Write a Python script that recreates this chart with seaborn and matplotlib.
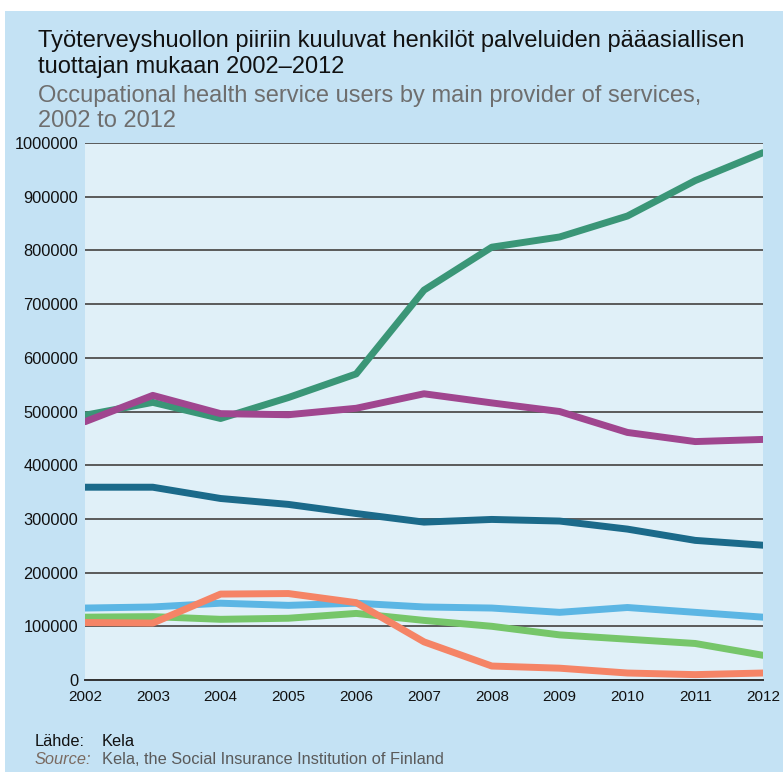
import matplotlib
matplotlib.use("Agg")
import matplotlib.pyplot as plt
import numpy as np
import pandas as pd
import seaborn as sns
from matplotlib.patches import Rectangle
from matplotlib.ticker import FuncFormatter

# ---- data ----
years = [2002, 2003, 2004, 2005, 2006, 2007, 2008, 2009, 2010, 2011, 2012]
series_names = ["Lääkäriasemat", "Terveyskeskukset", "Työnantajan oma yksikkö",
                "Yhteisyksiköt", "Kunnalliset liikelaitokset", "Muut"]
teal_vals = [493000, 517000, 487000, 526000, 570000, 726000, 806000, 825000, 864000, 930000, 982000]
purple_vals = [481000, 530000, 496000, 494000, 506000, 533000, 516000, 500000, 461000, 444000, 448000]
darkblue_vals = [359000, 359000, 338000, 327000, 310000, 294000, 299000, 296000, 281000, 260000, 251000]
lightblue_vals = [134000, 136000, 143000, 139000, 143000, 136000, 134000, 126000, 135000, 126000, 117000]
green_vals = [117000, 118000, 113000, 115000, 124000, 111000, 100000, 84000, 76000, 68000, 46000]
salmon_vals = [107000, 106000, 160000, 161000, 144000, 71000, 26000, 22000, 13000, 10000, 13000]
y_ticks = [0, 100000, 200000, 300000, 400000, 500000, 600000, 700000, 800000, 900000, 1000000]

title_fi = "Työterveyshuollon piiriin kuuluvat henkilöt palveluiden pääasiallisen\ntuottajan mukaan 2002–2012"
title_en = "Occupational health service users by main provider of services,\n2002 to 2012"

colors = ["#3a9677", "#a0468f", "#1b6a8a", "#5cb6e4", "#76c66a", "#f58466"]
panel_color = "#c4e2f4"
plot_bg = "#e0f0f8"

all_vals = [teal_vals, purple_vals, darkblue_vals, lightblue_vals, green_vals, salmon_vals]
df = pd.DataFrame({
    "year": years * len(series_names),
    "value": [v for vals in all_vals for v in vals],
    "series": [n for n in series_names for _ in years],
})

sns.set_style("white")
plt.rcParams["font.family"] = ["Liberation Sans", "DejaVu Sans"]

fig = plt.figure(figsize=(7.83, 7.75), dpi=100, facecolor="white")
fig.patches.append(Rectangle((5 / 783, 3 / 775), 1 - 5 / 783, (772 - 11) / 775,
                             transform=fig.transFigure, facecolor=panel_color,
                             edgecolor="none", zorder=0))

ax = fig.add_axes([85 / 783, 95 / 775, (763 - 85) / 783, (680 - 143) / 775])
ax.set_zorder(2)
ax.set_facecolor(plot_bg)

sns.lineplot(data=df, x="year", y="value", hue="series", hue_order=series_names,
             palette=colors, linewidth=5, legend=False, ax=ax, sort=False)

ax.set_xlim(2002, 2012)
ax.set_ylim(0, 1000000)
ax.set_xticks(years)
ax.set_yticks(y_ticks)
ax.yaxis.set_major_formatter(FuncFormatter(lambda v, p: str(int(v))))
ax.set_xlabel("")
ax.set_ylabel("")

ax.yaxis.grid(True, color="#5a5a5a", linewidth=1.4)
ax.xaxis.grid(False)
ax.set_axisbelow(True)
for s in ["top", "right", "left"]:
    ax.spines[s].set_visible(False)
ax.spines["bottom"].set_color("#333333")
ax.spines["bottom"].set_linewidth(1.4)

ax.tick_params(axis="x", direction="out", length=4, width=1.2, color="#333333",
               pad=3, labelsize=11, labelcolor="#111111")
ax.tick_params(axis="y", direction="out", length=4, width=1.4, color="#5a5a5a",
               pad=1, labelsize=11.8, labelcolor="#111111")

fig.text(38 / 783, 1 - 30 / 775, title_fi, ha="left", va="top", fontsize=17,
         color="#111111", linespacing=1.22)
fig.text(38 / 783, 1 - 85 / 775, title_en, ha="left", va="top", fontsize=17,
         color="#6e6e6e", linespacing=1.15)

fig.text(35 / 783, 1 - 741 / 775, "Lähde:", ha="left", va="center", fontsize=11.8, color="#111111")
fig.text(102 / 783, 1 - 741 / 775, "Kela", ha="left", va="center", fontsize=11.8, color="#111111")
fig.text(35 / 783, 1 - 760 / 775, "Source:", ha="left", va="center", fontsize=11.8,
         color="#7a6a60", style="italic")
fig.text(102 / 783, 1 - 760 / 775, "Kela, the Social Insurance Institution of Finland",
         ha="left", va="center", fontsize=11.8, color="#5a5a5a")

fig.savefig("out.png", dpi=100, facecolor="white")
